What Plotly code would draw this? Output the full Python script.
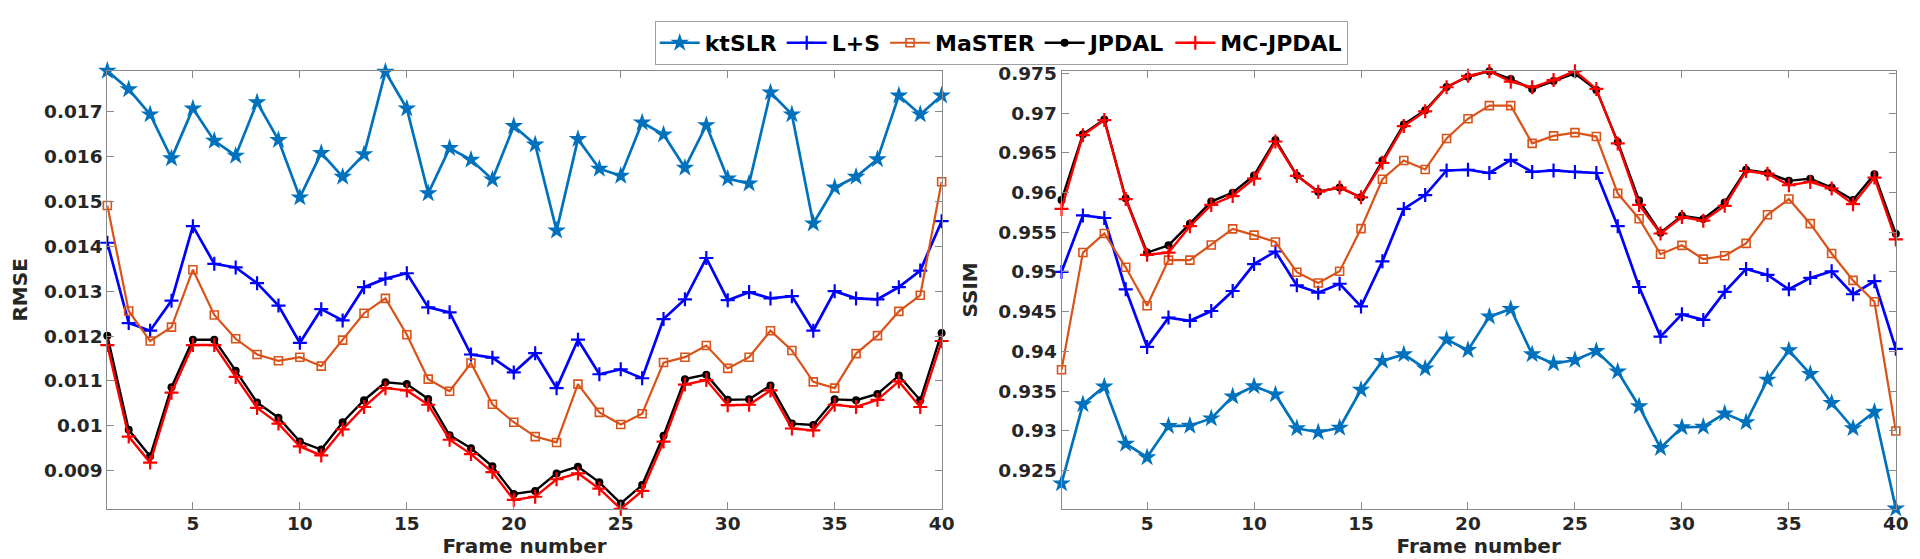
import plotly.graph_objects as go

frames = list(range(1, 41))

rmse_ktslr = [0.01791, 0.01750, 0.01694, 0.01596, 0.01707, 0.01635, 0.01602, 0.01721, 0.01637, 0.01509,
              0.01608, 0.01555, 0.01605, 0.01789, 0.01707, 0.01518, 0.01619, 0.01593, 0.01549, 0.01668,
              0.01627, 0.01435, 0.01639, 0.01573, 0.01557, 0.01676, 0.01649, 0.01575, 0.01670, 0.01551,
              0.01540, 0.01743, 0.01694, 0.01451, 0.01531, 0.01555, 0.01594, 0.01736, 0.01694, 0.01736]
rmse_ls = [0.01408, 0.01229, 0.01212, 0.01279, 0.01445, 0.01361, 0.01353, 0.01318, 0.01268, 0.01185,
           0.01260, 0.01235, 0.01309, 0.01328, 0.01340, 0.01264, 0.01253, 0.01159, 0.01152, 0.01119,
           0.01162, 0.01084, 0.01192, 0.01115, 0.01126, 0.01106, 0.01238, 0.01282, 0.01374, 0.01280,
           0.01298, 0.01284, 0.01289, 0.01212, 0.01300, 0.01284, 0.01282, 0.01309, 0.01346, 0.01456]
rmse_master = [0.01491, 0.01256, 0.01189, 0.01220, 0.01348, 0.01247, 0.01194, 0.01159, 0.01145, 0.01153,
               0.01133, 0.01191, 0.01251, 0.01284, 0.01203, 0.01104, 0.01077, 0.01140, 0.01048, 0.01008,
               0.00976, 0.00963, 0.01093, 0.01030, 0.01003, 0.01027, 0.01141, 0.01153, 0.01179, 0.01128,
               0.01153, 0.01212, 0.01168, 0.01098, 0.01084, 0.01161, 0.01201, 0.01255, 0.01291, 0.01544]
rmse_jpdal = [0.01201, 0.00991, 0.00932, 0.01086, 0.01192, 0.01192, 0.01123, 0.01052, 0.01018, 0.00965,
              0.00947, 0.01008, 0.01057, 0.01097, 0.01093, 0.01060, 0.00979, 0.00950, 0.00910, 0.00848,
              0.00855, 0.00894, 0.00909, 0.00874, 0.00827, 0.00868, 0.00978, 0.01104, 0.01114, 0.01058,
              0.01059, 0.01090, 0.01005, 0.01002, 0.01059, 0.01057, 0.01071, 0.01112, 0.01057, 0.01207]
rmse_mcjpdal = [0.01180, 0.00976, 0.00918, 0.01074, 0.01180, 0.01180, 0.01109, 0.01040, 0.01005, 0.00954,
                0.00934, 0.00992, 0.01042, 0.01084, 0.01079, 0.01047, 0.00969, 0.00937, 0.00897, 0.00835,
                0.00842, 0.00881, 0.00894, 0.00860, 0.00815, 0.00855, 0.00965, 0.01092, 0.01102, 0.01046,
                0.01047, 0.01079, 0.00994, 0.00990, 0.01047, 0.01042, 0.01058, 0.01099, 0.01042, 0.01189]

ssim_ktslr = [0.92336, 0.93332, 0.93556, 0.92836, 0.92666, 0.93059, 0.93063, 0.93155, 0.93432, 0.93560,
              0.93457, 0.93031, 0.92981, 0.93038, 0.93515, 0.93879, 0.93962, 0.93783, 0.94148, 0.94015,
              0.94437, 0.94533, 0.93962, 0.93845, 0.93891, 0.94003, 0.93746, 0.93308, 0.92782, 0.93043,
              0.93050, 0.93217, 0.93105, 0.93643, 0.94012, 0.93714, 0.93349, 0.93031, 0.93237, 0.92020]
ssim_ls = [0.95000, 0.95712, 0.95679, 0.94781, 0.94056, 0.94425, 0.94384, 0.94508, 0.94760, 0.95099,
           0.95257, 0.94831, 0.94739, 0.94851, 0.94565, 0.95133, 0.95794, 0.95968, 0.96278, 0.96287,
           0.96246, 0.96411, 0.96259, 0.96278, 0.96259, 0.96246, 0.95576, 0.94810, 0.94185, 0.94466,
           0.94396, 0.94748, 0.95037, 0.94962, 0.94781, 0.94925, 0.95008, 0.94719, 0.94884, 0.94031]
ssim_master = [0.93767, 0.95244, 0.95484, 0.95058, 0.94574, 0.95149, 0.95149, 0.95340, 0.95542, 0.95464,
               0.95377, 0.94996, 0.94860, 0.95008, 0.95546, 0.96167, 0.96403, 0.96291, 0.96681, 0.96929,
               0.97094, 0.97094, 0.96619, 0.96713, 0.96755, 0.96705, 0.95989, 0.95670, 0.95223, 0.95335,
               0.95161, 0.95203, 0.95360, 0.95720, 0.95918, 0.95608, 0.95232, 0.94893, 0.94624, 0.92997]
ssim_jpdal = [0.95906, 0.96734, 0.96920, 0.95927, 0.95244, 0.95335, 0.95608, 0.95886, 0.95998, 0.96216,
              0.96663, 0.96216, 0.96010, 0.96064, 0.95940, 0.96403, 0.96858, 0.97036, 0.97330, 0.97458,
              0.97529, 0.97429, 0.97305, 0.97404, 0.97500, 0.97293, 0.96638, 0.95899, 0.95493, 0.95707,
              0.95666, 0.95874, 0.96287, 0.96246, 0.96147, 0.96175, 0.96064, 0.95906, 0.96229, 0.95480]
ssim_mcjpdal = [0.95794, 0.96722, 0.96912, 0.95918, 0.95216, 0.95244, 0.95576, 0.95844, 0.95956, 0.96175,
                0.96643, 0.96209, 0.96010, 0.96062, 0.95940, 0.96374, 0.96837, 0.97023, 0.97326, 0.97470,
                0.97529, 0.97396, 0.97326, 0.97417, 0.97529, 0.97305, 0.96619, 0.95844, 0.95484, 0.95691,
                0.95645, 0.95832, 0.96271, 0.96237, 0.96092, 0.96134, 0.96051, 0.95853, 0.96188, 0.95409]

x_ticks = [5, 10, 15, 20, 25, 30, 35, 40]
rmse_ticks = [0.009, 0.010, 0.011, 0.012, 0.013, 0.014, 0.015, 0.016, 0.017]
rmse_ticktext = ["0.009", "0.01", "0.011", "0.012", "0.013", "0.014", "0.015", "0.016", "0.017"]
ssim_ticks = [0.925, 0.930, 0.935, 0.940, 0.945, 0.950, 0.955, 0.960, 0.965, 0.970, 0.975]
ssim_ticktext = ["0.925", "0.93", "0.935", "0.94", "0.945", "0.95", "0.955", "0.96", "0.965", "0.97", "0.975"]

names = ["ktSLR", "L+S", "MaSTER", "JPDAL", "MC-JPDAL"]
colors = ["#0072BD", "#0000FF", "#D95319", "#000000", "#FF0000"]

FONT = "DejaVu Sans"
W, H = 1920, 559

styles = [
    dict(symbol="star", size=14, line=dict(width=0)),
    dict(symbol="cross-thin-open", size=10, line=dict(width=2.2)),
    dict(symbol="square-open", size=8, line=dict(width=1.6)),
    dict(symbol="circle", size=8, line=dict(width=0)),
    dict(symbol="cross-thin-open", size=10, line=dict(width=2.2)),
]
lwidths = [2.7, 2.7, 2.2, 2.4, 2.4]

fig = go.Figure()
rmse_series = [rmse_ktslr, rmse_ls, rmse_master, rmse_jpdal, rmse_mcjpdal]
ssim_series = [ssim_ktslr, ssim_ls, ssim_master, ssim_jpdal, ssim_mcjpdal]

for i in range(5):
    m = dict(styles[i])
    m["color"] = colors[i]
    m["line"] = dict(m["line"], color=colors[i])
    fig.add_trace(go.Scatter(x=frames, y=rmse_series[i], mode="lines+markers", name=names[i],
                             line=dict(color=colors[i], width=lwidths[i]), marker=m,
                             cliponaxis=False, xaxis="x", yaxis="y", legendgroup=names[i]))
for i in range(5):
    m = dict(styles[i])
    m["color"] = colors[i]
    m["line"] = dict(m["line"], color=colors[i])
    fig.add_trace(go.Scatter(x=frames, y=ssim_series[i], mode="lines+markers", name=names[i],
                             line=dict(color=colors[i], width=lwidths[i]), marker=m,
                             cliponaxis=False, xaxis="x2", yaxis="y2", legendgroup=names[i],
                             showlegend=False))

axcol = "#8a8a8a"
tickfont = dict(family=FONT, size=18.5, color="#262626", weight="bold")
titlefont = dict(family=FONT, size=20, color="#262626", weight="bold")

ydom = [1 - 500 / H, 1 - 55.7 / H]
common_x = dict(range=[1, 40], tickvals=x_ticks, ticks="inside", ticklen=7, tickcolor=axcol,
                showline=True, linecolor=axcol, linewidth=1, mirror="ticks", showgrid=False,
                zeroline=False, tickfont=tickfont, ticklabelstandoff=-2,
                title=dict(text="Frame number", font=titlefont, standoff=0))
common_y = dict(ticks="inside", ticklen=7, tickcolor=axcol, showline=True, linecolor=axcol,
                linewidth=1, mirror="ticks", showgrid=False, zeroline=False, tickfont=tickfont)

fig.update_layout(
    width=W, height=H,
    margin=dict(l=0, r=0, t=0, b=0),
    paper_bgcolor="white", plot_bgcolor="white",
    font=dict(family=FONT),
    xaxis=dict(common_x, domain=[100 / W, 940 / W], anchor="y"),
    yaxis=dict(common_y, domain=ydom, anchor="x", range=[0.00815, 0.01791],
               tickvals=rmse_ticks, ticktext=rmse_ticktext,
               title=dict(text="RMSE", font=titlefont, standoff=15)),
    xaxis2=dict(common_x, domain=[1060.7 / W, 1900.7 / W], anchor="y2"),
    yaxis2=dict(common_y, domain=ydom, anchor="x2", range=[0.92016, 0.97532],
                tickvals=ssim_ticks, ticktext=ssim_ticktext,
                title=dict(text="SSIM", font=titlefont, standoff=15)),
    legend=dict(orientation="h", x=1000 / W, xanchor="center", y=1 - 5 / H, yanchor="top",
                font=dict(family=FONT, size=22, color="#000000", weight="bold"),
                bordercolor="#a0a0a0", borderwidth=1, bgcolor="white",
                itemwidth=40, tracegroupgap=0, itemsizing="trace"),
    showlegend=True,
)

fig.write_html("out.html")
